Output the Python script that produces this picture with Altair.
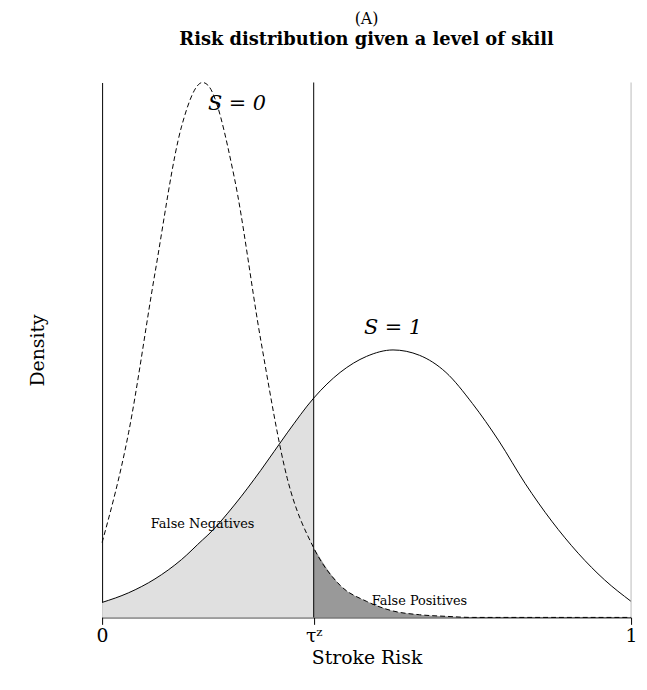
import altair as alt
import pandas as pd

x = [0, 0.05, 0.1, 0.15, 0.19, 0.2, 0.25, 0.3, 0.35, 0.4, 0.45, 0.5, 0.55, 0.6,
     0.65, 0.7, 0.75, 0.8, 0.85, 0.9, 0.95, 1.0]
s0 = [0.14, 0.345, 0.644, 0.917, 1.0, 0.995, 0.822, 0.518, 0.26, 0.13, 0.06, 0.03,
      0.012, 0.005, 0.002, 0.0, 0.0, 0.0, 0.0, 0.0, 0.0, 0.0]
s1 = [0.028, 0.046, 0.072, 0.108, 0.145, 0.154, 0.21, 0.275, 0.345, 0.41, 0.458, 0.488,
      0.5, 0.49, 0.458, 0.40, 0.33, 0.25, 0.18, 0.12, 0.07, 0.03]
tau = 0.4
font = "DejaVu Serif"

df = pd.DataFrame({"x": x, "s0": s0, "s1": s1})
base = alt.Chart(df)
xs = alt.Scale(domain=[0, 1], nice=False)
ys = alt.Scale(domain=[0, 1], nice=False)

fn = base.transform_filter(alt.datum.x <= tau).mark_area(
    color="#e0e0e0", interpolate="monotone").encode(
    x=alt.X("x:Q", scale=xs, title="Stroke Risk",
            axis=alt.Axis(values=[0, tau, 1], labelExpr="datum.value == 0 ? '0' : datum.value == 1 ? '1' : 'τᶻ'",
                          grid=False, labelFontSize=19, titleFontSize=19, labelFont=font,
                          titleFont=font, titleFontWeight="normal", domainColor="black",
                          tickColor="black", labelColor="black", titleColor="black", tickSize=7,
                          labelFlush=False)),
    y=alt.Y("s1:Q", scale=ys, title="Density",
            axis=alt.Axis(labels=False, ticks=False, grid=False, titleFontSize=19,
                          titleFont=font, titleFontWeight="normal", domainColor="black",
                          titleColor="black", titlePadding=55)))
fp = base.transform_filter(alt.datum.x >= tau).mark_area(
    color="#999999", interpolate="monotone").encode(x="x:Q", y="s0:Q")
l1 = base.mark_line(color="black", strokeWidth=1, interpolate="monotone").encode(x="x:Q", y="s1:Q")
l0 = base.mark_line(color="black", strokeWidth=1, strokeDash=[5, 3], interpolate="monotone").encode(x="x:Q", y="s0:Q")

vline = alt.Chart(pd.DataFrame({"x": [tau]})).mark_rule(color="black").encode(x="x:Q")
rline = alt.Chart(pd.DataFrame({"x": [1.0]})).mark_rule(color="#bbbbbb").encode(x="x:Q")

lab_x = [0.255, 0.55, 0.19, 0.6]
lab_y = [0.96, 0.54, 0.175, 0.03]
lab_t = ["S = 0", "S = 1", "False Negatives", "False Positives"]
lab_s = [20, 20, 13, 13]
labs = alt.Chart(pd.DataFrame({"x": lab_x, "y": lab_y, "t": lab_t, "s": lab_s}))
big = labs.transform_filter(alt.datum.s > 15).mark_text(font=font, fontSize=21, fontStyle="italic").encode(
    x="x:Q", y="y:Q", text="t:N")
small = labs.transform_filter(alt.datum.s < 15).mark_text(font=font, fontSize=13).encode(
    x="x:Q", y="y:Q", text="t:N")

chart = alt.layer(fn, fp, l1, l0, vline, rline, big, small).properties(
    width=534, height=540,
    autosize=alt.AutoSizeParams(type="none"),
    padding={"left": 95, "top": 72, "right": 8, "bottom": 62},
    title=alt.Title("(A)", subtitle="Risk distribution given a level of skill", font=font,
                    fontSize=16, fontWeight="normal", color="black",
                    subtitleFont=font, subtitleFontSize=18, subtitleFontWeight="bold",
                    subtitleColor="black", subtitlePadding=4, anchor="middle", offset=32),
).configure_view(stroke=None)
chart.save("out.html", embed_options={"renderer": "svg", "actions": False})
